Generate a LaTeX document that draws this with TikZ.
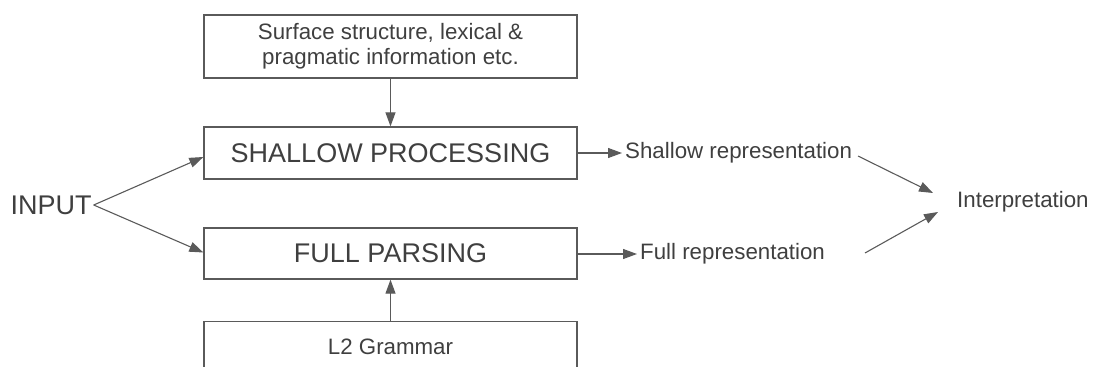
\documentclass[tikz,border=0pt]{standalone}
\usepackage{fontspec}
\setmainfont{Liberation Sans}
\usetikzlibrary{arrows.meta,positioning}
\definecolor{ink}{HTML}{3F3F3F}
\definecolor{edge}{HTML}{5A5A5A}
\begin{document}
\begin{tikzpicture}[x=1pt,y=-1pt,
  procbox/.style={draw=edge,line width=1.3pt,minimum width=373pt,inner sep=0pt,text=ink},
  bigtxt/.style={font=\fontsize{27}{31}\selectfont},
  smalltxt/.style={font=\fontsize{22.3}{25}\selectfont,text=ink},
  link/.style={draw=edge,line width=1.1pt,-{Triangle[length=14pt,width=10pt]}}]
\useasboundingbox (0,0) rectangle (1093,367);

% knowledge sources and processing stages
\node[procbox,minimum height=63pt,smalltxt,align=center] (surf) at (390.5,46.5)
  {Surface structure, lexical \&\\pragmatic information etc.};
\node[procbox,minimum height=52pt,bigtxt] (shallow) at (390.5,153) {SHALLOW PROCESSING};
\node[procbox,minimum height=51pt,bigtxt] (full) at (390.5,253.5) {FULL PARSING};
\node[procbox,minimum height=66pt,anchor=north] (gram) at (390.5,321) {};
\node[smalltxt] (gramtxt) at (390.5,347) {L2 Grammar};

% input and outputs
\node[bigtxt,text=ink,inner sep=2pt] (input) at (51,205) {INPUT};
\node[smalltxt,anchor=west,inner sep=3pt] (srep) at (622,153) {Shallow representation};
\node[smalltxt,anchor=west,inner sep=3pt] (frep) at (637,254) {Full representation};
\node[smalltxt,anchor=west,inner sep=3pt] (interp) at (954,202) {Interpretation};

\coordinate (s0) at (858,156);
\coordinate (s1) at (933,193);
\coordinate (f0) at (865,253);
\coordinate (f1) at (938,212);

% connectors
\draw[link] (surf.south) -- (shallow.north);
\draw[link] (gram.north) -- (full.south);
\draw[link] (input.east) -- ([yshift=-4pt]shallow.west);
\draw[link] (input.east) -- ([yshift=1pt]full.west);
\draw[link] (shallow.east |- srep.west) -- (srep.west);
\draw[link] (full.east |- frep.west) -- (frep.west);
\draw[link] (s0) -- (s1);
\draw[link] (f0) -- (f1);
\end{tikzpicture}
\end{document}
